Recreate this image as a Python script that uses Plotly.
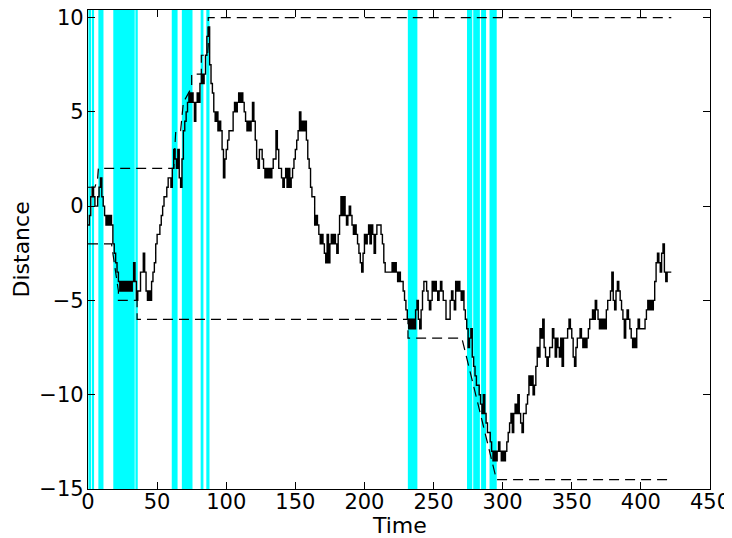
import plotly.graph_objects as go

# Random-walk distance, one value per time step (t = 0 .. 422)
distance = [
    -1, -0.5, 0.5, 1, 0.5, 0, 0, 0.5, 1, 1.5,
    0.5, 0, -0.5, -1, -0.5, -1, -0.5, -1, -2, -2.5,
    -3, -3.5, -4, -4.5, -4, -4.5, -4, -4.5, -4, -4.5,
    -4, -4.5, -4, -3, -4, -5, -4.5, -4.5, -3.5, -3.5,
    -2.5, -3.5, -4.5, -5, -4.5, -5, -4, -3.5, -3, -2,
    -1.5, -1.5, -1, -0.5, 0, 0.5, 0.5, 1, 1.5, 1.5,
    1, 2, 3, 2.5, 2, 3, 1.5, 1, 2.5, 4,
    4.5, 5, 5.5, 6, 5.5, 6, 5.5, 4.5, 5.5, 6,
    5.5, 6.5, 7, 6.5, 7, 8, 9, 9.5, 7.5, 6.5,
    6, 5, 4.5, 5, 4, 4.5, 4, 3, 1.5, 2.5,
    3, 3.5, 4, 4, 4, 5, 5.5, 5, 5.5, 6,
    5.5, 6, 5.5, 5, 4.5, 4, 4.5, 4, 4.5, 5.5,
    4.5, 3.5, 2.5, 2, 3, 3, 2.5, 2, 1.5, 2,
    1.5, 2, 1.5, 2, 2.5, 2.5, 4, 3, 2, 2,
    1.5, 1, 1.5, 2, 1, 2, 1, 1.5, 2, 2.5,
    3, 3.5, 4, 5, 4, 4.5, 4, 4.5, 3.5, 2.5,
    2, 1, 0.5, 0.5, -1, -0.5, -1, -1.5, -2, -1.5,
    -2, -2.5, -3, -1.5, -3, -2, -1.5, -2, -1.5, -2,
    -2.5, -1.5, -0.5, 0.5, -0.5, 0.5, -0.5, -1, -0.5, 0,
    -0.5, -1, -1.5, -1, -1.5, -2, -2.5, -3, -3.5, -2.5,
    -1.5, -2, -1.5, -1, -2, -1, -1.5, -2.5, -1.5, -1,
    -1, -1, -1.5, -2, -3, -3.5, -3.5, -3.5, -3.5, -3.5,
    -3, -3.5, -3, -3.5, -4, -3.5, -4, -4, -4.5, -5,
    -5.5, -6, -6.5, -6, -6.5, -6, -6.5, -5.5, -5, -6,
    -6.5, -5.5, -4.5, -4, -4, -4.5, -5, -5.5, -5, -4,
    -4.5, -4, -4.5, -5, -4.5, -4, -4.5, -5, -5, -6,
    -6, -6, -5, -4.5, -5, -5.5, -4, -4.5, -4, -4.5,
    -5, -4.5, -5.5, -6, -6.5, -7.5, -7, -6.5, -8, -8.5,
    -9, -9.5, -9.5, -10, -10.5, -11, -10, -11, -11.5, -12,
    -12, -12.5, -13, -13.5, -13, -13.5, -13, -12.5, -13, -13.5,
    -13, -13.5, -13, -12.5, -12, -11.5, -11, -12, -11, -10.5,
    -11, -10, -11, -11.5, -12, -11, -11, -10.5, -10, -9,
    -9.5, -9, -10, -9.5, -8.5, -7.5, -8, -6.5, -7, -6,
    -7.5, -8, -8.5, -8, -7.5, -7.5, -6.5, -7, -8, -7,
    -7.5, -8, -7, -8.5, -7, -7, -7, -6.5, -6, -6.5,
    -7, -8, -8.5, -7.5, -7, -7, -6.5, -7, -7.5, -7,
    -7.5, -7, -6.5, -6, -6, -5.5, -6, -5, -5.5, -6,
    -6.5, -6, -6.5, -6, -6.5, -5.5, -5, -5, -4.5, -3.5,
    -5, -5.5, -4.5, -4, -4.5, -5, -5.5, -6, -7, -6,
    -5.5, -6, -6.5, -7, -7.5, -7, -7.5, -6.5, -6, -6.5,
    -6.5, -6.5, -6.5, -6, -5.5, -5, -5.5, -5, -5.5, -5,
    -4, -3, -2.5, -3, -3.5, -2.5, -2, -3.5, -4, -3.5,
    -3.5, -3.5, -3.5,
]
time = list(range(len(distance)))

# Upper dashed envelope
upper_t = [0, 5, 7, 7.5, 62, 63.5, 67, 69, 75, 75, 82, 82, 86.5, 87, 87, 422]
upper_v = [1, 1, 1.5, 2, 2, 4, 4, 5.5, 6.3, 7, 7, 8, 8, 8.5, 10, 10]

# Lower dashed envelope
lower_t = [0, 17, 22, 22, 35.5, 35.5, 231.5, 231.5, 270.5, 295.5, 422]
lower_v = [-2, -2, -4.5, -5, -5, -6, -6, -7, -7, -14.5, -14.5]

# Highlighted (cyan) time intervals
band_start = [0.3, 2.8, 7.5, 18.3, 34.3, 60.6, 67.9, 81.5, 85.6, 231.4, 274.2, 278.7, 284.4, 290.5]
band_end = [2.2, 4.4, 11.2, 33.8, 36.0, 64.8, 75.6, 83.5, 87.9, 238.3, 278.0, 283.5, 288.0, 295.7]

x_ticks = [0, 50, 100, 150, 200, 250, 300, 350, 400, 450]
y_ticks = [-15, -10, -5, 0, 5, 10]

fig = go.Figure()

for s, e in zip(band_start, band_end):
    fig.add_vrect(x0=s, x1=e, fillcolor="#00ffff", opacity=1, line_width=0, layer="below")

fig.add_trace(go.Scatter(x=upper_t, y=upper_v, mode="lines",
                         line=dict(color="black", width=1.2, dash="10px,6px"),
                         showlegend=False, hoverinfo="skip"))
fig.add_trace(go.Scatter(x=lower_t, y=lower_v, mode="lines",
                         line=dict(color="black", width=1.2, dash="10px,6px"),
                         showlegend=False, hoverinfo="skip"))
fig.add_trace(go.Scatter(x=time, y=distance, mode="lines",
                         line=dict(color="black", width=1.4, shape="hv"),
                         showlegend=False))

axis_common = dict(
    showgrid=False, zeroline=False, showline=True, linecolor="black", linewidth=1.2,
    mirror="allticks", ticks="inside", ticklen=7, tickwidth=1, tickcolor="black",
    tickfont=dict(family="DejaVu Sans", size=21, color="black"),
    automargin=False, ticklabeloverflow="allow",
)

fig.update_xaxes(range=[0, 450], tickvals=x_ticks, ticklabelstandoff=-6, **axis_common)
fig.update_yaxes(range=[-15, 10.4], tickvals=y_ticks, ticklabelstandoff=-1, **axis_common)

title_font = dict(family="DejaVu Sans", size=22, color="black")
fig.add_annotation(text="Time", xref="paper", yref="paper", x=0.5, y=0,
                   xanchor="center", yanchor="middle", yshift=-36,
                   showarrow=False, font=title_font)
fig.add_annotation(text="Distance", xref="paper", yref="paper", x=0, y=0.5,
                   xanchor="center", yanchor="middle", xshift=-67, textangle=-90,
                   showarrow=False, font=title_font)

# The page body adds an 8 px offset, so the figure is sized to fit the window.
fig.update_layout(
    width=724, height=530,
    margin=dict(l=80, r=22, t=2, b=49),
    plot_bgcolor="white", paper_bgcolor="white",
    font=dict(family="DejaVu Sans", color="black"),
)

fig.write_html("out.html")
